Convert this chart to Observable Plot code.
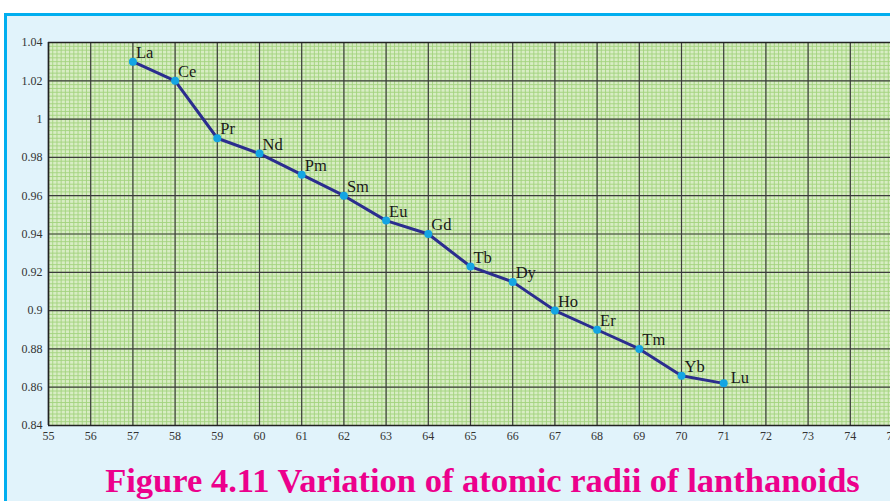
<!DOCTYPE html>
<html>
<head>
<meta charset="utf-8">
<script src="https://cdn.jsdelivr.net/npm/d3@7"></script>
<script src="https://cdn.jsdelivr.net/npm/@observablehq/plot@0.6"></script>
<style>
  html, body { margin: 0; padding: 0; background: #ffffff; width: 890px; height: 501px; overflow: hidden; }
  #panel { position: absolute; left: 4px; top: 13px; width: 950px; height: 560px;
           background: #e1f3fb; border-top: 3px solid #00aeef; border-left: 3px solid #00aeef; }
  #chart { position: absolute; left: 0; top: 0; width: 900px; height: 450px; }
  #chart svg { max-width: none !important; }
  #title { position: absolute; left: 0; top: 463px; width: 965px; text-align: center;
           font-family: "Liberation Serif", "DejaVu Serif", serif; font-weight: bold;
           font-size: 34.5px; line-height: 34px; color: #ec008c; white-space: nowrap; }
</style>
</head>
<body>
<div id="panel"></div>
<div id="chart"></div>
<div id="title">Figure 4.11 Variation of atomic radii of lanthanoids</div>
<script>
const elements = ["La", "Ce", "Pr", "Nd", "Pm", "Sm", "Eu", "Gd", "Tb", "Dy", "Ho", "Er", "Tm", "Yb", "Lu"];
const atomicNumbers = [57, 58, 59, 60, 61, 62, 63, 64, 65, 66, 67, 68, 69, 70, 71];
const radii = [1.03, 1.02, 0.99, 0.982, 0.971, 0.96, 0.947, 0.94, 0.923, 0.915, 0.90, 0.89, 0.88, 0.866, 0.862];
const xTicks = [55, 56, 57, 58, 59, 60, 61, 62, 63, 64, 65, 66, 67, 68, 69, 70, 71, 72, 73, 74, 75];
const yTicks = [0.84, 0.86, 0.88, 0.90, 0.92, 0.94, 0.96, 0.98, 1.00, 1.02, 1.04];

const data = elements.map((e, i) => ({ el: e, z: atomicNumbers[i], r: radii[i] }));
const minorX = d3.range(0, 201).map(i => 55 + i * 0.1);
const minorY = d3.range(0, 101).map(i => 0.84 + i * 0.002);
const labelData = data.filter(d => d.el !== "Lu");
const lastData = data.filter(d => d.el === "Lu");

const chart = Plot.plot({
  width: 900,
  height: 450,
  marginLeft: 48,
  marginRight: 8,
  marginTop: 42,
  marginBottom: 25,
  style: { background: "transparent", overflow: "visible", maxWidth: "none" },
  x: { domain: [55, 75], label: null },
  y: { domain: [0.84, 1.04], label: null },
  marks: [
    Plot.frame({ fill: "#d8edc4", stroke: null }),
    Plot.ruleX(minorX, { stroke: "#a3d37e", strokeWidth: 0.9 }),
    Plot.ruleY(minorY, { stroke: "#a3d37e", strokeWidth: 0.9 }),
    Plot.ruleX(xTicks, { stroke: "#3c3c3c", strokeWidth: 1.2 }),
    Plot.ruleY(yTicks, { stroke: "#3c3c3c", strokeWidth: 1.2 }),
    Plot.ruleX([55], { stroke: "#222", strokeWidth: 1.6 }),
    Plot.ruleY([0.84, 1.04], { stroke: "#222", strokeWidth: 1.6 }),
    Plot.axisX({ ticks: xTicks, tickSize: 0, tickPadding: 6, tickFormat: d => String(d), label: null,
      fontFamily: "Liberation Serif", fontSize: 12, fill: "#333" }),
    Plot.axisY({ ticks: yTicks, tickSize: 0, tickPadding: 6, tickFormat: d => String(+d.toFixed(2)), label: null,
      fontFamily: "Liberation Serif", fontSize: 12, fill: "#333" }),
    Plot.line(data, { x: "z", y: "r", stroke: "#2b2d8e", strokeWidth: 3 }),
    Plot.dot(data, { x: "z", y: "r", r: 4, fill: "#14a5e3", stroke: null }),
    Plot.text(labelData, { x: "z", y: "r", text: "el", textAnchor: "start", lineAnchor: "bottom",
      dx: 3, dy: -4, fontFamily: "Liberation Serif", fontSize: 16.5, fill: "#1a1a1a" }),
    Plot.text(lastData, { x: "z", y: "r", text: "el", textAnchor: "start", lineAnchor: "bottom",
      dx: 7, dy: 0, fontFamily: "Liberation Serif", fontSize: 16.5, fill: "#1a1a1a" })
  ]
});
document.getElementById("chart").appendChild(chart);
</script>
</body>
</html>
